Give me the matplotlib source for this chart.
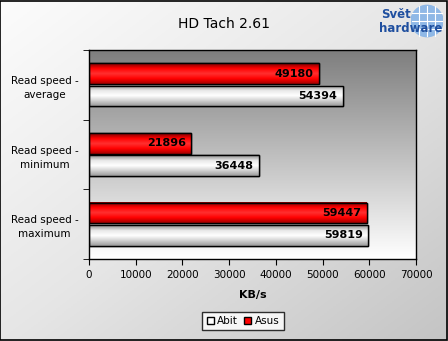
import numpy as np
import matplotlib
matplotlib.use("Agg")
import matplotlib.pyplot as plt
from matplotlib.colors import LinearSegmentedColormap

categories = ["Read speed -\naverage", "Read speed -\nminimum", "Read speed -\nmaximum"]
series_names = ["Abit", "Asus"]
abit = [54394, 36448, 59819]
asus = [49180, 21896, 59447]
xticks = [0, 10000, 20000, 30000, 40000, 50000, 60000, 70000]

fig = plt.figure(figsize=(4.48, 3.41), dpi=100)
fig.patch.set_facecolor("#e2e2e2")

# figure background diagonal gradient (light top-left, grey bottom-right)
bg = fig.add_axes([0, 0, 1, 1], zorder=-10)
bg.axis("off")
xx, yy = np.meshgrid(np.linspace(0, 1, 200), np.linspace(0, 1, 200))
d = (xx + yy) / 2.0
bgc = LinearSegmentedColormap.from_list("bg", ["#fcfcfc", "#e6e6e6", "#c4c4c4"])
bg.imshow(d, cmap=bgc, vmin=0, vmax=1, aspect="auto", extent=[0, 1, 0, 1], origin="upper")
bg.set_xlim(0, 1); bg.set_ylim(0, 1)
bg.add_patch(plt.Rectangle((0.001, 0.002), 0.997, 0.995, fill=False, ec="black", lw=1.2,
                           transform=bg.transAxes))

ax = fig.add_axes([89/448, 1-259/341, (416-89)/448, (259-50)/341])
n = len(categories)
ypos = np.arange(n)[::-1]
h = 0.30
off = 0.32

ax.set_xlim(0, 70000)
ax.set_ylim(-0.5, n - 0.5)

# plot area gradient
grad = np.linspace(0, 1, 256).reshape(-1, 1)
ax.imshow(grad, cmap=LinearSegmentedColormap.from_list("pa", ["#ffffff", "#7e7e7e"]),
          aspect="auto", extent=[0, 70000, -0.5, n - 0.5], origin="lower", zorder=0)

b_asus = ax.barh(ypos + off / 2, asus, height=h, color="#ff0000", ec="black", lw=1, zorder=2,
                 label="Asus")
b_abit = ax.barh(ypos - off / 2, abit, height=h, color="#ffffff", ec="black", lw=1, zorder=2,
                 label="Abit")

cm_red = LinearSegmentedColormap.from_list("r", ["#7a0000", "#ff0000", "#ff3030", "#ff0000", "#a00000"])
cm_white = LinearSegmentedColormap.from_list("w", ["#8a8a8a", "#e8e8e8", "#ffffff", "#d0d0d0", "#9a9a9a"])
vg = np.linspace(0, 1, 64).reshape(-1, 1)
for bars, cm in ((b_asus, cm_red), (b_abit, cm_white)):
    for r in bars:
        x0, y0, w, hh = r.get_x(), r.get_y(), r.get_width(), r.get_height()
        ax.imshow(vg, cmap=cm, aspect="auto", extent=[x0, x0 + w, y0, y0 + hh],
                  origin="upper", zorder=2.5)
        ax.add_patch(plt.Rectangle((x0, y0), w, hh, fill=False, ec="black", lw=1, zorder=3))
        ax.text(x0 + w - 1200, y0 + hh / 2, f"{int(w)}", ha="right", va="center",
                fontsize=8, fontweight="bold", color="black", zorder=4,
                family=["Liberation Sans Narrow", "DejaVu Sans"])

ax.set_xlim(0, 70000)
ax.set_ylim(-0.5, n - 0.5)
ax.set_xticks(xticks)
ax.set_xticklabels([str(v) for v in xticks], fontsize=7.5)
ax.set_yticks(ypos)
ax.set_yticklabels(categories, fontsize=7.5, ha="center", linespacing=1.5)
ax.tick_params(axis="y", length=0, pad=32)
ax.set_yticks(np.arange(-0.5, n, 1.0), minor=True)
ax.tick_params(axis="y", which="minor", length=4, direction="out")
ax.tick_params(axis="x", length=4, direction="out", pad=4)
for s in ax.spines.values():
    s.set_linewidth(1)
ax.set_xlabel("KB/s", fontsize=8, fontweight="bold", labelpad=7)

fig.text(224/448, 1 - 24/341, "HD Tach 2.61", ha="center", va="center", fontsize=10)

# logo
lg = fig.add_axes([411/448, 1 - 39/341, 32/448, 36/341], zorder=-5)
lg.axis("off")
lg.set_xlim(-1, 1); lg.set_ylim(-1.15, 1.15)
lg.add_patch(plt.Circle((0, 0), 1.0, color="#8fb8e6"))
for yv in (-0.5, 0, 0.5):
    lg.plot([-0.95, 0.95], [yv, yv], color="white", lw=0.8)
for xv in (-0.5, 0, 0.5):
    lg.plot([xv, xv], [-0.95, 0.95], color="white", lw=0.8)
fig.text(396/448, 1 - 14/341, "Svět", ha="center", va="center", fontsize=8.5,
         fontweight="bold", color="#1f4f9f")
fig.text(411/448, 1 - 28/341, "hardware", ha="center", va="center", fontsize=8.5,
         fontweight="bold", color="#1f4f9f")

leg = fig.legend(handles=[b_abit, b_asus], labels=series_names, loc="center",
                 bbox_to_anchor=(243/448, 1 - 321/341), ncol=2, fontsize=7.5,
                 frameon=True, fancybox=False, edgecolor="black", handlelength=0.7,
                 handleheight=0.7, handletextpad=0.3, columnspacing=0.6, borderpad=0.4)
leg.get_frame().set_linewidth(1)

fig.savefig("out.png", dpi=100)
